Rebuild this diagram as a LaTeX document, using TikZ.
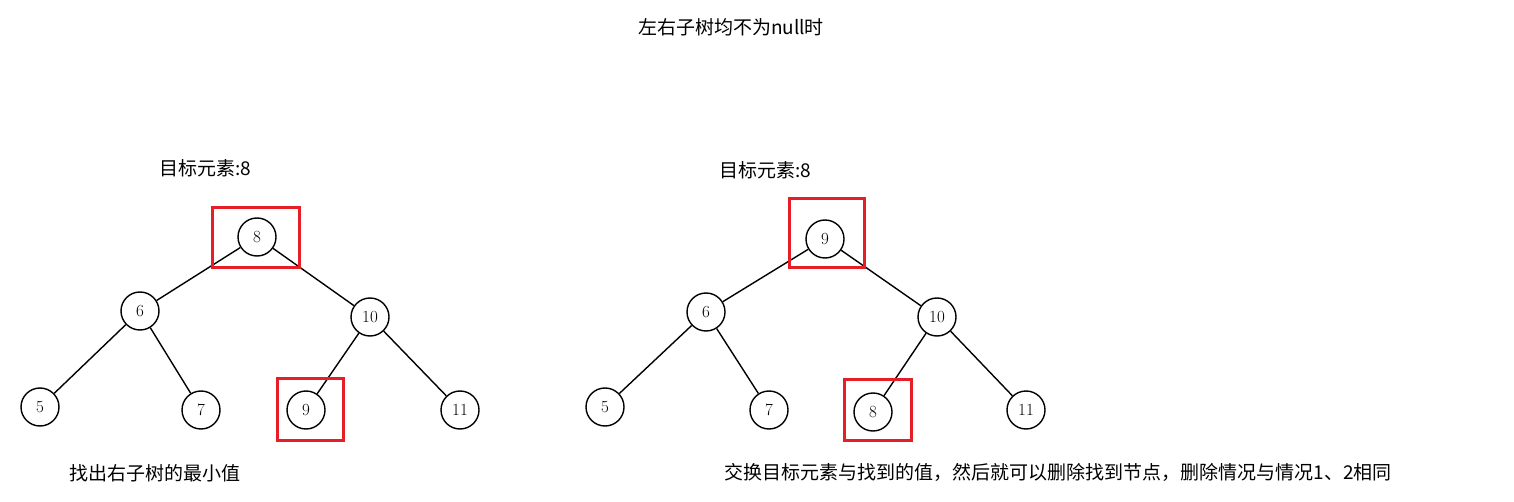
\documentclass[tikz,border=0pt]{standalone}
\usepackage{fontspec}
\newfontfamily\cjk{Noto Sans CJK SC}
\begin{document}
\begin{tikzpicture}[x=1pt,y=-1pt,
  nd/.style={circle,draw,line width=1.4pt,minimum size=38pt,inner sep=0pt,font=\fontsize{17}{17}\selectfont},
  ed/.style={line width=1.4pt},
  red/.style={draw={rgb,255:red,230;green,30;blue,40},line width=3pt},
  lab/.style={font=\cjk\fontsize{19}{19}\selectfont}]
\useasboundingbox (0,0) rectangle (1514,502);
\node[lab] (title) at (731,27) {左右子树均不为null时};
% left tree
\node[lab] (t1) at (205,168) {目标元素:8};
\node[nd] (a8) at (257,237) {8};
\node[nd] (a6) at (140,311) {6};
\node[nd] (a10) at (370,317) {10};
\node[nd] (a5) at (40,407) {5};
\node[nd] (a7) at (201,410) {7};
\node[nd] (a9) at (306,410) {9};
\node[nd] (a11) at (460,410) {11};
\draw[ed] (a8)--(a6); \draw[ed] (a8)--(a10);
\draw[ed] (a6)--(a5); \draw[ed] (a6)--(a7);
\draw[ed] (a10)--(a9); \draw[ed] (a10)--(a11);
\draw[red] (212,208) rectangle (299,268);
\draw[red] (277,378) rectangle (343,440);
\node[lab] (b1) at (155,473) {找出右子树的最小值};
% right tree
\node[lab] (t2) at (765,170) {目标元素:8};
\node[nd] (b9) at (825,239) {9};
\node[nd] (b6) at (706,312) {6};
\node[nd] (b10) at (937,317) {10};
\node[nd] (b5) at (605,407) {5};
\node[nd] (b7) at (769,410) {7};
\node[nd] (b8) at (873,412) {8};
\node[nd] (b11) at (1026,410) {11};
\draw[ed] (b9)--(b6); \draw[ed] (b9)--(b10);
\draw[ed] (b6)--(b5); \draw[ed] (b6)--(b7);
\draw[ed] (b10)--(b8); \draw[ed] (b10)--(b11);
\draw[red] (789,199) rectangle (864,268);
\draw[red] (844,379) rectangle (911,440);
\node[lab] (b2) at (1058,472) {交换目标元素与找到的值，然后就可以删除找到节点，删除情况与情况1、2相同};
\end{tikzpicture}
\end{document}
